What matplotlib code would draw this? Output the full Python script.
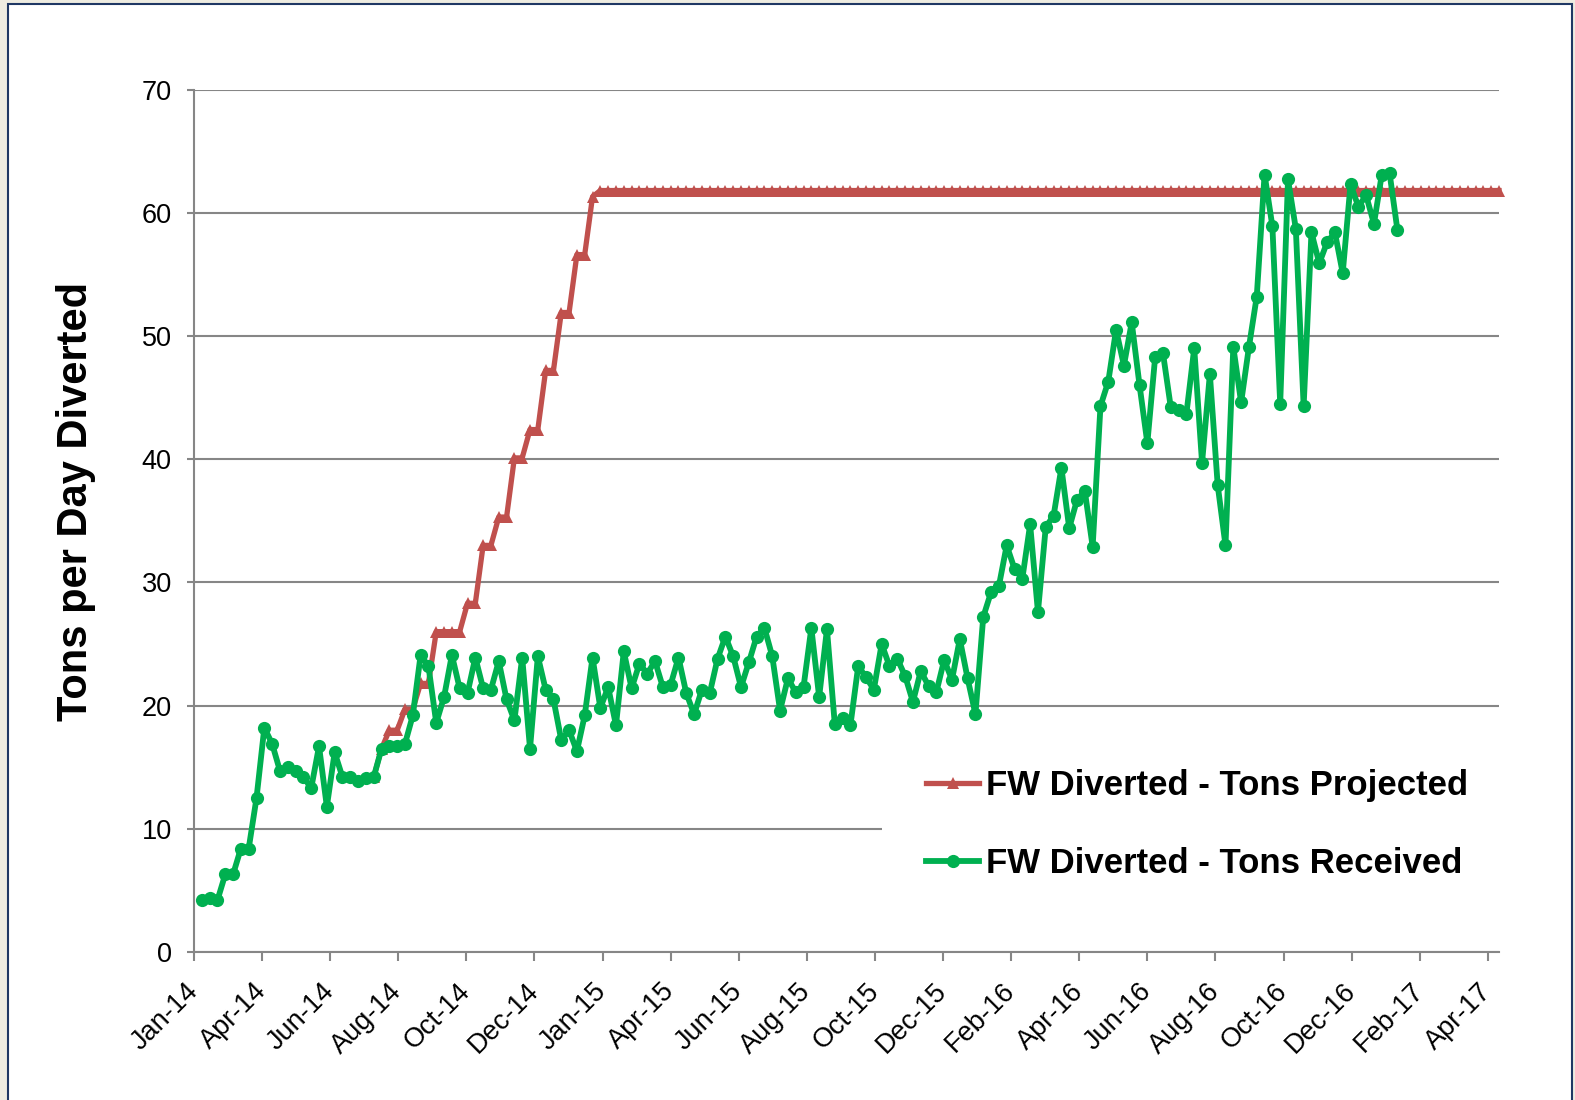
import matplotlib
matplotlib.use('Agg')
import matplotlib.pyplot as plt
from matplotlib.patches import Rectangle
import pandas as pd

plt.rcParams['font.family'] = ['Liberation Sans', 'DejaVu Sans']

# ---------------- data ----------------
received_start = '2014-02-06'    # weekly observations
projected_start = '2014-07-10'   # weekly projection

received = [
    4.2, 4.4, 4.2, 6.3, 6.3, 8.4, 8.4, 12.5, 18.2, 16.9,
    14.7, 15.0, 14.7, 14.2, 13.3, 16.7, 11.8, 16.2, 14.2, 14.2,
    13.9, 14.1, 14.2, 16.5, 16.7, 16.7, 16.9, 19.2, 24.1, 23.2,
    18.6, 20.7, 24.1, 21.4, 21.0, 23.9, 21.4, 21.3, 23.6, 20.5,
    18.8, 23.9, 16.5, 24.0, 21.3, 20.5, 17.2, 18.0, 16.3, 19.2,
    23.9, 19.8, 21.5, 18.4, 24.4, 21.4, 23.4, 22.6, 23.6, 21.5,
    21.7, 23.9, 21.0, 19.3, 21.3, 21.0, 23.8, 25.6, 24.0, 21.5,
    23.5, 25.6, 26.3, 24.0, 19.6, 22.2, 21.1, 21.5, 26.3, 20.7,
    26.2, 18.5, 19.0, 18.4, 23.2, 22.3, 21.3, 25.0, 23.2, 23.8,
    22.4, 20.3, 22.8, 21.6, 21.1, 23.7, 22.1, 25.4, 22.2, 19.3,
    27.2, 29.2, 29.7, 33.0, 31.1, 30.3, 34.7, 27.6, 34.5, 35.4,
    39.3, 34.4, 36.7, 37.4, 32.9, 44.3, 46.3, 50.5, 47.6, 51.1,
    46.0, 41.3, 48.3, 48.6, 44.2, 44.0, 43.7, 49.0, 39.7, 46.9,
    37.9, 33.0, 49.1, 44.6, 49.1, 53.2, 63.1, 58.9, 44.5, 62.7,
    58.7, 44.3, 58.4, 55.9, 57.6, 58.4, 55.1, 62.3, 60.5, 61.4,
    59.1, 63.1, 63.2, 58.6,
]

projected = [
    14.2, 16.5, 18.0, 18.0, 19.7, 19.7, 21.8, 21.8,
    26.0, 26.0, 26.0, 26.0, 28.3, 28.3, 33.0, 33.0, 35.3, 35.3,
    40.1, 40.1, 42.4, 42.4, 47.2, 47.2, 51.9, 51.9, 56.6, 56.6,
    61.3, 61.8, 61.8, 61.8, 61.8, 61.8, 61.8, 61.8, 61.8, 61.8,
    61.8, 61.8, 61.8, 61.8, 61.8, 61.8, 61.8, 61.8, 61.8, 61.8,
    61.8, 61.8, 61.8, 61.8, 61.8, 61.8, 61.8, 61.8, 61.8, 61.8,
    61.8, 61.8, 61.8, 61.8, 61.8, 61.8, 61.8, 61.8, 61.8, 61.8,
    61.8, 61.8, 61.8, 61.8, 61.8, 61.8, 61.8, 61.8, 61.8, 61.8,
    61.8, 61.8, 61.8, 61.8, 61.8, 61.8, 61.8, 61.8, 61.8, 61.8,
    61.8, 61.8, 61.8, 61.8, 61.8, 61.8, 61.8, 61.8, 61.8, 61.8,
    61.8, 61.8, 61.8, 61.8, 61.8, 61.8, 61.8, 61.8, 61.8, 61.8,
    61.8, 61.8, 61.8, 61.8, 61.8, 61.8, 61.8, 61.8, 61.8, 61.8,
    61.8, 61.8, 61.8, 61.8, 61.8, 61.8, 61.8, 61.8, 61.8, 61.8,
    61.8, 61.8, 61.8, 61.8, 61.8, 61.8, 61.8, 61.8, 61.8, 61.8,
    61.8, 61.8, 61.8, 61.8, 61.8, 61.8, 61.8,
]

tick_start = '2014-01-30'   # axis start; ticks every 61 days
tick_labels = ['Jan-14', 'Apr-14', 'Jun-14', 'Aug-14', 'Oct-14', 'Dec-14',
               'Jan-15', 'Apr-15', 'Jun-15', 'Aug-15', 'Oct-15', 'Dec-15',
               'Feb-16', 'Apr-16', 'Jun-16', 'Aug-16', 'Oct-16', 'Dec-16',
               'Feb-17', 'Apr-17']
y_ticks = [0, 10, 20, 30, 40, 50, 60, 70]

label_projected = 'FW Diverted - Tons Projected'
label_received = 'FW Diverted - Tons Received'
y_label = 'Tons per Day Diverted'

received_dates = pd.date_range(received_start, periods=len(received), freq='7D')
projected_dates = pd.date_range(projected_start, periods=len(projected), freq='7D')
tick_dates = pd.date_range(tick_start, periods=len(tick_labels), freq='61D')

# ---------------- figure ----------------
W, H = 1575, 1100
fig = plt.figure(figsize=(W / 100, H / 100), dpi=100, facecolor='#EEECE1')
fig.patches.append(Rectangle((8 / W, -0.02), (1572 - 8) / W, 1 - 4 / H + 0.02,
                             transform=fig.transFigure, facecolor='white',
                             edgecolor='#1F3864', linewidth=1.5, zorder=-5))

ax = fig.add_axes([194 / W, 1 - 952 / H, (1499 - 194) / W, (952 - 89.5) / H])
ax.set_facecolor('none')

grey = '#868686'
red = '#C0504D'
green = '#00B050'

ax.plot(projected_dates, projected, color=red, lw=3.8, marker='^', ms=8.5,
        markeredgewidth=0, label=label_projected, zorder=3, clip_on=False)
ax.plot(received_dates, received, color=green, lw=4.2, marker='o', ms=9.5,
        markeredgewidth=0, label=label_received, zorder=4, clip_on=False)

ax.set_xlim(pd.Timestamp(tick_start), projected_dates[-1])
ax.set_ylim(0, 70)

ax.set_yticks(y_ticks)
ax.set_yticklabels([str(v) for v in y_ticks], fontsize=19.5)
ax.set_xticks(tick_dates)
ax.set_xticklabels(tick_labels, rotation=45, ha='right', va='center',
                   rotation_mode='anchor', fontsize=19.5)

ax.tick_params(axis='x', direction='out', length=6.5, width=1.5, color=grey, pad=19)
ax.tick_params(axis='y', direction='out', length=5, width=1.5, color=grey, pad=11)

ax.yaxis.grid(True, color=grey, lw=1.5)
ax.xaxis.grid(False)
ax.set_axisbelow(True)
for s in ['top', 'right']:
    ax.spines[s].set_visible(False)
for s in ['left', 'bottom']:
    ax.spines[s].set_color(grey)
    ax.spines[s].set_linewidth(1.5)

# white area behind the legend (hides the gridline there)
ax.add_patch(Rectangle((0.527, 0.03), 0.473, 0.215, transform=ax.transAxes,
                       facecolor='white', edgecolor='none', zorder=1))

ax.legend(loc='upper left', bbox_to_anchor=(926 / W, 1 - 769 / H),
          bbox_transform=fig.transFigure, frameon=False,
          prop={'weight': 'bold', 'size': 25}, handlelength=1.53,
          handletextpad=0.2, labelspacing=1.3, borderpad=0, borderaxespad=0)

fig.text(76 / W, 1 - 501 / H, y_label, rotation=90, fontsize=30,
         fontweight='bold', ha='center', va='center')

fig.savefig('out.png', dpi=100, facecolor=fig.get_facecolor())
